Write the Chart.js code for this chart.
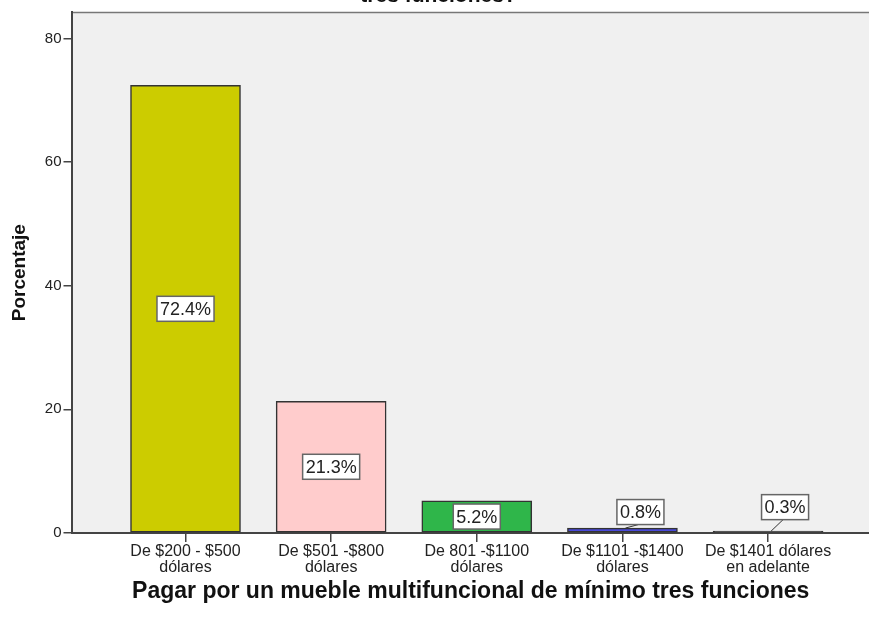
<!DOCTYPE html>
<html>
<head>
<meta charset="utf-8">
<script src="https://cdn.jsdelivr.net/npm/chart.js@4.4.1/dist/chart.umd.min.js"></script>
<style>
  html, body { margin: 0; padding: 0; background: #fff; overflow: hidden; }
  #wrap { position: absolute; left: 0; top: -46px; width: 869px; height: 668px; }
</style>
</head>
<body>
<div id="wrap"><canvas id="chart" width="869" height="668"></canvas></div>
<script>
// ---- Data ----
const categorias = [
  'De $200 - $500\ndólares',
  'De $501 -$800\ndólares',
  'De 801 -$1100\ndólares',
  'De $1101 -$1400\ndólares',
  'De $1401 dólares\nen adelante'
];
const porcentajes = [72.4, 21.3, 5.2, 0.8, 0.3];
const yTicks = [0, 20, 40, 60, 80];

// ---- Styles ----
const colores = ['#cccc00', '#ffcccc', '#2fb64a', '#4848d8', '#333333'];
// label box nudge for the thin bars (dx, dy in px from bar top)
const labelShift = [null, null, null, [18, -16], [17, -24]];
const FONT = '"Liberation Sans", Arial, sans-serif';

Chart.defaults.font.family = FONT;
Chart.defaults.color = '#222';

const plotFrame = {
  id: 'plotFrame',
  beforeDraw(chart) {
    const { ctx, chartArea: a } = chart;
    ctx.save();
    ctx.fillStyle = '#f0f0f0';
    ctx.fillRect(a.left, a.top, a.right - a.left, a.bottom - a.top);
    ctx.strokeStyle = '#777';
    ctx.lineWidth = 1.5;
    ctx.beginPath();
    ctx.moveTo(a.left, a.top);
    ctx.lineTo(a.right, a.top);
    ctx.stroke();
    ctx.restore();
  }
};

const barLabels = {
  id: 'barLabels',
  afterDatasetsDraw(chart) {
    const { ctx } = chart;
    const meta = chart.getDatasetMeta(0);
    ctx.save();
    ctx.font = '18px ' + FONT;
    ctx.textAlign = 'center';
    ctx.textBaseline = 'middle';
    meta.data.forEach((bar, i) => {
      const txt = porcentajes[i].toFixed(1) + '%';
      const w = ctx.measureText(txt).width + 6;
      const h = 25;
      let cx = bar.x, cy = (bar.y + bar.base) / 2;
      const shift = labelShift[i];
      if (shift) {
        cx = bar.x + shift[0];
        cy = bar.y + shift[1];
        ctx.strokeStyle = '#333';
        ctx.lineWidth = 1;
        ctx.beginPath();
        ctx.moveTo(cx - 2, cy + h / 2);
        ctx.lineTo(bar.x + 3, bar.y);
        ctx.stroke();
      }
      ctx.fillStyle = '#fff';
      ctx.fillRect(cx - w / 2, cy - h / 2, w, h);
      ctx.strokeStyle = '#666';
      ctx.lineWidth = 1.5;
      ctx.strokeRect(cx - w / 2, cy - h / 2, w, h);
      ctx.fillStyle = '#222';
      ctx.fillText(txt, cx, cy + 1);
    });
    ctx.restore();
  }
};

new Chart(document.getElementById('chart'), {
  type: 'bar',
  data: {
    datasets: [{
      data: porcentajes.map((v, i) => ({ x: i, y: v })),
      backgroundColor: colores,
      borderColor: '#333',
      borderWidth: 1.5,
      borderSkipped: false,
      barThickness: 110
    }]
  },
  options: {
    responsive: false,
    animation: false,
    layout: { padding: { left: 8, right: 0, top: 0, bottom: 19 } },
    plugins: {
      legend: { display: false },
      tooltip: { enabled: false },
      title: {
        display: true,
        text: ['¿Cuánto estaría dispuesto a pagar por un mueble multifuncional de mínimo', 'tres funciones?'],
        font: { size: 21, weight: 'bold' },
        color: '#111',
        padding: { top: 4, bottom: 4 }
      }
    },
    scales: {
      x: {
        type: 'linear',
        offset: false,
        min: -0.776,
        max: 4.693,
        afterBuildTicks: (scale) => { scale.ticks = categorias.map((c, i) => ({ value: i })); },
        ticks: {
          callback: (v) => categorias[v] ? categorias[v].split('\n') : '',
          font: { size: 16, lineHeight: 1.0 },
          color: '#222',
          maxRotation: 0,
          autoSkip: false,
          padding: 2
        },
        grid: { display: true, offset: false, drawOnChartArea: false, drawTicks: true, tickLength: 9, color: '#444', lineWidth: 1.5 },
        border: { display: true, color: '#444', width: 2 },
        title: {
          display: true,
          text: 'Pagar por un mueble multifuncional de mínimo tres funciones',
          font: { size: 23, weight: 'bold', lineHeight: 1.0 },
          color: '#111',
          padding: { top: 2, bottom: 0 }
        }
      },
      y: {
        min: 0,
        max: 84.2,
        afterBuildTicks: (scale) => { scale.ticks = yTicks.map(v => ({ value: v })); },
        ticks: { font: { size: 15 }, color: '#222', padding: 2 },
        grid: { display: true, drawOnChartArea: false, drawTicks: true, tickLength: 9, color: '#444', lineWidth: 1.5 },
        border: { display: true, color: '#444', width: 2 },
        title: {
          display: true,
          text: 'Porcentaje',
          font: { size: 19, weight: 'bold' },
          color: '#111',
          padding: { top: 0, bottom: 12 }
        }
      }
    }
  },
  plugins: [plotFrame, barLabels]
});
</script>
</body>
</html>
